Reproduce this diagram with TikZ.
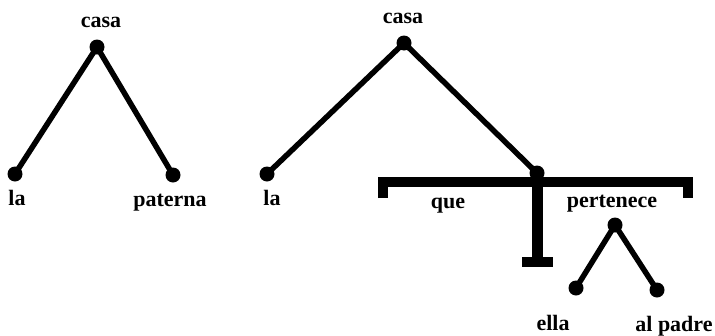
\documentclass[tikz,border=0pt]{standalone}
\usepackage{fontspec}
\setmainfont{Liberation Serif}
\begin{document}
\begin{tikzpicture}[x=1pt,y=-1pt,
  dot/.style={circle,fill=black,inner sep=0pt,minimum size=15pt},
  lbl/.style={anchor=base,inner sep=0pt,font=\fontsize{22}{24}\selectfont\bfseries},
  edge/.style={line width=5.5pt},
  bar/.style={line width=10.5pt}]
\useasboundingbox (0,0) rectangle (715,335);
% left tree
\node[dot] (c1) at (97,47) {};
\node[dot] (l1) at (15,174) {};
\node[dot] (p1) at (173,175) {};
\node[lbl] (tc1) at (101,27) {casa};
\node[lbl] (tl1) at (17,205) {la};
\node[lbl] (tp1) at (170,206) {paterna};
\draw[edge] (c1.center) -- (l1.center);
\draw[edge] (c1.center) -- (p1.center);
% right tree
\node[dot] (c2) at (404,43) {};
\node[dot] (l2) at (267,174) {};
\node[dot] (j) at (537,173) {};
\node[lbl] (tc2) at (403,23) {casa};
\node[lbl] (tl2) at (272,205) {la};
\draw[edge] (c2.center) -- (l2.center);
\draw[edge] (c2.center) -- (j.center);
% bar
\coordinate (bl) at (383,182);
\coordinate (br) at (688,182);
\coordinate (blt) at (383,198);
\coordinate (brt) at (688,198);
\coordinate (vb) at (537,262);
\coordinate (fl) at (522,262);
\coordinate (fr) at (553,262);
\draw[bar,line join=miter] (blt) -- (bl) -- (br) -- (brt);
\draw[line width=11pt] (j.center) -- (vb);
\draw[bar] (fl) -- (fr);
\node[lbl] (tq) at (448,208) {que};
\node[lbl] (tpe) at (612,207) {pertenece};
% subtree
\node[dot] (pe) at (615,225) {};
\node[dot] (el) at (576,288) {};
\node[dot] (ap) at (657,290) {};
\draw[edge] (pe.center) -- (el.center);
\draw[edge] (pe.center) -- (ap.center);
\node[lbl] (tel) at (553,330) {ella};
\node[lbl] (tap) at (674,331) {al padre};
\end{tikzpicture}
\end{document}
